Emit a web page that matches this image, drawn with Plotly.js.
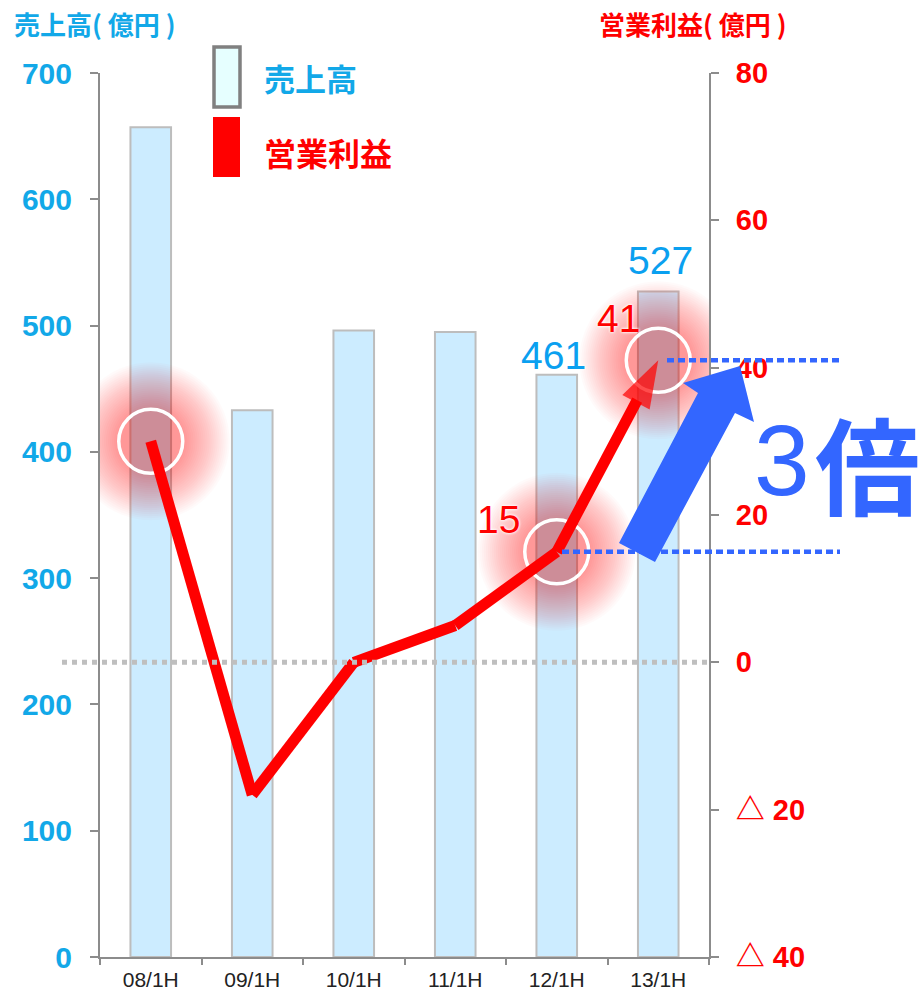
<!DOCTYPE html>
<html>
<head>
<meta charset="utf-8">
<script src="https://cdn.plot.ly/plotly-3.0.1.min.js"></script>
<style>
html,body{margin:0;padding:0;background:#fff;}
#chart{width:922px;height:994px;}
</style>
</head>
<body>
<div id="chart"></div>
<script>
// ---- data ----
const categories = ['08/1H', '09/1H', '10/1H', '11/1H', '12/1H', '13/1H'];
const sales = [657, 433, 496, 495, 461, 527];          // 売上高 (億円)
const profit = [30, -18, 0, 5, 15, 41];                // 営業利益 (億円)
const salesTicks = [0, 100, 200, 300, 400, 500, 600, 700];
const profitTickVals = [-40, -20, 0, 20, 40, 60, 80];
const profitTickText = ['△ 40', '△ 20', '0', '20', '40', '60', '80'];
const highlightIdx = [0, 4, 5];   // glowing / circled points
const labelIdx = [4, 5];          // points with value labels

// ---- layout helpers (pixel -> paper) ----
const L = 100, R = 709, T = 73, B = 957;
const px = x => (x - L) / (R - L);
const py = y => (B - y) / (B - T);

const CYAN = '#12A8E8';
const LBLUE = '#0AA0F0';
const RED = '#FF0000';
const BLUE = '#3366FF';
const FONT = 'Liberation Sans, Arial, Noto Sans CJK JP, sans-serif';
const JP = 'Noto Sans CJK JP, Liberation Sans, sans-serif';

// glow rings
const glowX = [], glowY = [], glowS = [];
highlightIdx.forEach(i => {
  for (let s = 70; s <= 160; s += 4) {
    glowX.push(categories[i]); glowY.push(profit[i]); glowS.push(s);
  }
});

const traces = [
  {
    type: 'bar', x: categories, y: sales, yaxis: 'y', name: '売上高',
    marker: {color: 'rgb(204,236,255)', line: {color: '#BDBDBD', width: 2}},
    hoverinfo: 'skip'
  },
  {
    type: 'scatter', mode: 'markers', x: glowX, y: glowY, yaxis: 'y2',
    marker: {size: glowS, color: 'rgba(255,0,0,0.028)', line: {width: 0}},
    hoverinfo: 'skip', showlegend: false
  },
  {
    type: 'scatter', mode: 'markers', yaxis: 'y2',
    x: highlightIdx.map(i => categories[i]), y: highlightIdx.map(i => profit[i]),
    marker: {symbol: 'circle-open', size: 64, color: 'white', line: {color: 'white', width: 3.5}},
    hoverinfo: 'skip', showlegend: false
  },
  {
    type: 'scatter', mode: 'lines+markers', x: categories, y: profit, yaxis: 'y2', name: '営業利益',
    line: {color: RED, width: 11},
    marker: {
      symbol: 'arrow', angleref: 'previous', color: RED,
      size: profit.map((v, i) => i === profit.length - 1 ? 50 : 0),
      line: {width: 0}
    },
    hoverinfo: 'skip'
  }
];

const annotations = [
  // axis titles
  {xref: 'paper', yref: 'paper', x: px(12), y: py(24), xanchor: 'left', yanchor: 'middle',
   text: '売上高( 億円 )', showarrow: false, font: {family: JP, size: 26, color: CYAN, weight: 'bold'}},
  {xref: 'paper', yref: 'paper', x: px(597), y: py(24), xanchor: 'left', yanchor: 'middle',
   text: '営業利益( 億円 )', showarrow: false, font: {family: JP, size: 26, color: RED, weight: 'bold'}},
  // legend texts
  {xref: 'paper', yref: 'paper', x: px(262), y: py(78), xanchor: 'left', yanchor: 'middle',
   text: '売上高', showarrow: false, font: {family: JP, size: 31, color: CYAN, weight: 'bold'}},
  {xref: 'paper', yref: 'paper', x: px(262), y: py(152), xanchor: 'left', yanchor: 'middle',
   text: '営業利益', showarrow: false, font: {family: JP, size: 32, color: RED, weight: 'bold'}},
  // 3倍
  {xref: 'paper', yref: 'paper', x: px(752), y: py(460), xanchor: 'left', yanchor: 'middle',
   text: '3', showarrow: false, font: {family: FONT, size: 100, color: BLUE}},
  {xref: 'paper', yref: 'paper', x: px(813), y: py(461), xanchor: 'left', yanchor: 'middle',
   text: '倍', showarrow: false, font: {family: JP, size: 105, color: BLUE, weight: 'bold'}}
];
labelIdx.forEach(i => {
  annotations.push({x: categories[i], y: sales[i], xref: 'x', yref: 'y', yanchor: 'bottom',
    xshift: i === 4 ? -3 : 2, yshift: i === 4 ? -4 : 7,
    text: String(sales[i]), showarrow: false,
    font: {family: FONT, size: 39, color: LBLUE, shadow: '0 0 3px white, 0 0 3px white'}});
});
annotations.push({x: categories[4], y: profit[4], xref: 'x', yref: 'y2', xshift: -58, yshift: 32,
  text: String(profit[4]), showarrow: false,
  font: {family: FONT, size: 39, color: RED, shadow: '0 0 3px white, 0 0 3px white'}});
annotations.push({x: categories[5], y: profit[5], xref: 'x', yref: 'y2', xshift: -40, yshift: 42,
  text: String(profit[5]), showarrow: false,
  font: {family: FONT, size: 39, color: RED, shadow: '0 0 3px white, 0 0 3px white'}});

// arrow polygon (pixel coords)
const arrowPts = [[619, 543], [698, 393], [683, 383], [740, 366], [754, 422], [735, 413], [655, 562]];
const arrowPath = 'M' + arrowPts.map(p => px(p[0]).toFixed(5) + ',' + py(p[1]).toFixed(5)).join(' L') + ' Z';

const shapes = [
  // zero line of profit
  {type: 'line', xref: 'paper', yref: 'y2', x0: px(62), x1: 1, y0: 0, y1: 0, layer: 'above',
   line: {color: '#BFBFBF', width: 5, dash: '5px,5px'}},
  // blue dotted reference lines
  {type: 'line', xref: 'paper', yref: 'y2', x0: px(667), x1: px(840), y0: profit[5], y1: profit[5], layer: 'above',
   line: {color: BLUE, width: 4.5, dash: '7px,4px'}},
  {type: 'line', xref: 'paper', yref: 'y2', x0: px(562), x1: px(840), y0: profit[4], y1: profit[4], layer: 'above',
   line: {color: BLUE, width: 4.5, dash: '7px,4px'}},
  // big arrow
  {type: 'path', xref: 'paper', yref: 'paper', path: arrowPath, fillcolor: BLUE, line: {width: 0}, layer: 'above'},
  // legend swatches
  {type: 'rect', xref: 'paper', yref: 'paper', x0: px(214), x1: px(240), y0: py(107), y1: py(47),
   fillcolor: '#E6FFFF', line: {color: '#808080', width: 3.5}, layer: 'above'},
  {type: 'rect', xref: 'paper', yref: 'paper', x0: px(213), x1: px(240), y0: py(177), y1: py(117),
   fillcolor: RED, line: {width: 0}, layer: 'above'}
];

const layout = {
  width: 922, height: 994,
  margin: {l: L, r: 922 - R, t: T, b: 994 - B, pad: 0},
  paper_bgcolor: '#fff', plot_bgcolor: 'rgba(0,0,0,0)',
  showlegend: false,
  bargap: 0.6,
  font: {family: FONT},
  xaxis: {
    type: 'category', range: [-0.5, 5.5], showgrid: false, zeroline: false,
    showline: true, linecolor: '#8C8C8C', linewidth: 2,
    ticks: 'outside', tickson: 'boundaries', ticklen: 6, tickwidth: 2, tickcolor: '#8C8C8C',
    tickfont: {family: FONT, size: 21, color: '#222'}, ticklabelstandoff: 3
  },
  yaxis: {
    range: [0, 700], tickvals: salesTicks, showgrid: false, zeroline: false,
    showline: true, linecolor: '#8C8C8C', linewidth: 2,
    ticks: 'outside', ticklen: 8, tickwidth: 2, tickcolor: '#8C8C8C',
    tickfont: {family: FONT, size: 30, color: CYAN, weight: 'bold'}, ticklabelstandoff: 12
  },
  yaxis2: {
    overlaying: 'y', side: 'right', range: [-40, 80],
    tickvals: profitTickVals, ticktext: profitTickText, showgrid: false, zeroline: false,
    showline: true, linecolor: '#8C8C8C', linewidth: 2,
    ticks: 'outside', ticklen: 8, tickwidth: 2, tickcolor: '#8C8C8C',
    tickfont: {family: FONT, size: 29, color: RED, weight: 'bold'}, ticklabelstandoff: 11
  },
  shapes: shapes,
  annotations: annotations
};

Plotly.newPlot('chart', traces, layout, {staticPlot: true, displayModeBar: false});
</script>
</body>
</html>
